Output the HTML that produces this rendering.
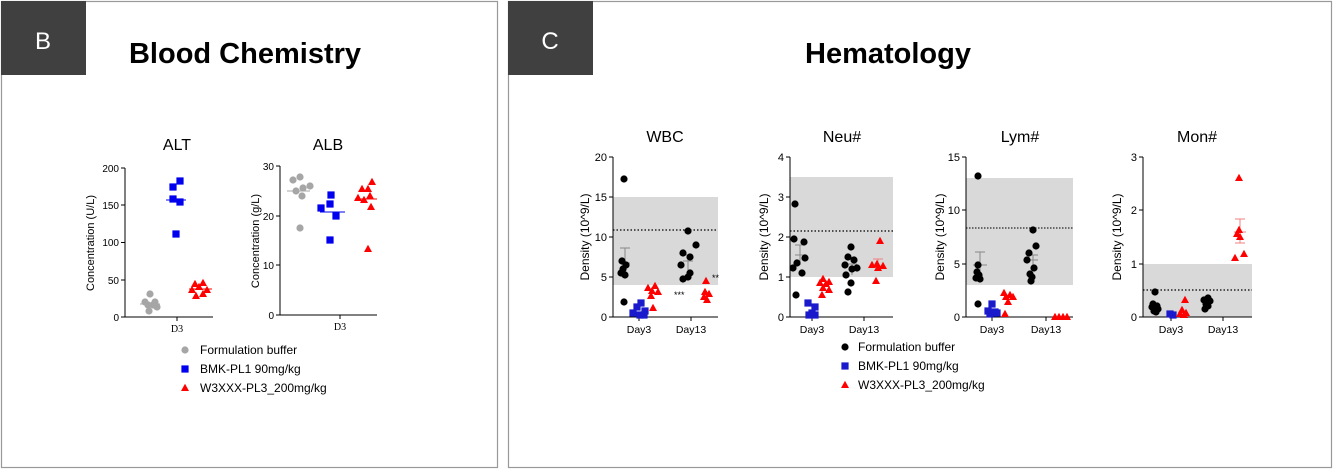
<!DOCTYPE html>
<html><head><meta charset="utf-8"><style>
html,body{margin:0;padding:0;background:#fff;}
svg{display:block;font-family:"Liberation Sans",Arial,sans-serif;}
</style></head><body>
<svg width="1334" height="476" viewBox="0 0 1334 476" xmlns="http://www.w3.org/2000/svg">
<defs>
<circle id="c" r="3.6"/>
<rect id="s" x="-3.6" y="-3.6" width="7.2" height="7.2"/>
<polygon id="t" points="0,-4.2 4,3 -4,3"/>
</defs>
<rect x="1.5" y="1.5" width="496" height="466" fill="#fff" stroke="#999" stroke-width="1.2"/>
<rect x="508.5" y="1.5" width="823" height="466" fill="#fff" stroke="#999" stroke-width="1.2"/>
<rect x="1" y="1" width="85" height="74" fill="#404040"/>
<rect x="508" y="1" width="85" height="74" fill="#404040"/>
<text x="43" y="49" fill="#fff" font-size="24" text-anchor="middle">B</text>
<text x="550" y="49" fill="#fff" font-size="24" text-anchor="middle">C</text>
<text x="245" y="63" font-size="29" font-weight="bold" text-anchor="middle">Blood Chemistry</text>
<text x="888" y="63" font-size="29" font-weight="bold" text-anchor="middle">Hematology</text>

<g font-size="11" fill="#000">
<text x="177" y="150" font-size="16" text-anchor="middle">ALT</text>
<line x1="125" y1="168" x2="125" y2="317" stroke="#000"/>
<line x1="125" y1="317" x2="213" y2="317" stroke="#000"/>
<line x1="177" y1="317" x2="177" y2="321" stroke="#000"/>
<g stroke="#000"><line x1="121" y1="168" x2="125" y2="168"/><line x1="121" y1="205" x2="125" y2="205"/><line x1="121" y1="242.5" x2="125" y2="242.5"/><line x1="121" y1="280" x2="125" y2="280"/><line x1="121" y1="317" x2="125" y2="317"/></g>
<g text-anchor="end" font-size="10"><text x="119" y="172">200</text><text x="119" y="209">150</text><text x="119" y="246">100</text><text x="119" y="284">50</text><text x="119" y="321">0</text></g>
<text x="177" y="332" font-family="Liberation Serif,serif" font-size="10" text-anchor="middle">D3</text>
<text transform="translate(94,243) rotate(-90)" font-size="11" text-anchor="middle">Concentration (U/L)</text>
<g fill="#a6a6a6"><use href="#c" x="150" y="294"/><use href="#c" x="145" y="302"/><use href="#c" x="155" y="302"/><use href="#c" x="153" y="305"/><use href="#c" x="148" y="305"/><use href="#c" x="157" y="307"/><use href="#c" x="149" y="311"/></g>
<line x1="140" y1="304" x2="160" y2="304" stroke="#a6a6a6"/>
<g fill="#0000ee"><use href="#s" x="173" y="187"/><use href="#s" x="180" y="181"/><use href="#s" x="173" y="199"/><use href="#s" x="180" y="202"/><use href="#s" x="176" y="234"/></g>
<line x1="166" y1="200" x2="186" y2="200" stroke="#0000ee"/>
<g fill="#ff0000"><use href="#t" x="195" y="284"/><use href="#t" x="203" y="283"/><use href="#t" x="199" y="287"/><use href="#t" x="192" y="290"/><use href="#t" x="207" y="290"/><use href="#t" x="196" y="296"/><use href="#t" x="203" y="294"/></g>
<line x1="189" y1="289" x2="212" y2="289" stroke="#ff0000"/>

<text x="328" y="150" font-size="16" text-anchor="middle">ALB</text>
<line x1="280" y1="166" x2="280" y2="315" stroke="#000"/>
<line x1="280" y1="315" x2="377" y2="315" stroke="#000"/>
<line x1="340" y1="315" x2="340" y2="319" stroke="#000"/>
<g stroke="#000"><line x1="276" y1="166" x2="280" y2="166"/><line x1="276" y1="216" x2="280" y2="216"/><line x1="276" y1="265" x2="280" y2="265"/><line x1="276" y1="315" x2="280" y2="315"/></g>
<g text-anchor="end" font-size="10"><text x="274" y="170">30</text><text x="274" y="220">20</text><text x="274" y="269">10</text><text x="274" y="319">0</text></g>
<text x="340" y="330" font-family="Liberation Serif,serif" font-size="10" text-anchor="middle">D3</text>
<text transform="translate(259,241) rotate(-90)" font-size="11" text-anchor="middle">Concentration (g/L)</text>
<g fill="#a6a6a6"><use href="#c" x="293" y="180"/><use href="#c" x="300" y="177"/><use href="#c" x="296" y="191"/><use href="#c" x="303" y="188"/><use href="#c" x="310" y="186"/><use href="#c" x="302" y="196"/><use href="#c" x="300" y="228"/></g>
<line x1="287" y1="191" x2="310" y2="191" stroke="#a6a6a6"/>
<g fill="#0000ee"><use href="#s" x="321" y="208"/><use href="#s" x="330" y="204"/><use href="#s" x="331" y="195"/><use href="#s" x="336" y="216"/><use href="#s" x="330" y="240"/></g>
<line x1="320" y1="212" x2="345" y2="212" stroke="#0000ee"/>
<g fill="#ff0000"><use href="#t" x="358" y="198"/><use href="#t" x="362" y="189"/><use href="#t" x="368" y="189"/><use href="#t" x="372" y="182"/><use href="#t" x="370" y="196"/><use href="#t" x="364" y="200"/><use href="#t" x="371" y="207"/><use href="#t" x="368" y="249"/></g>
<line x1="355" y1="199" x2="377" y2="199" stroke="#ff0000"/>

<use href="#c" x="185" y="350" fill="#a6a6a6"/><text x="200" y="354" font-size="12">Formulation buffer</text>
<use href="#s" x="185" y="369" fill="#0000ee"/><text x="200" y="373" font-size="12">BMK-PL1 90mg/kg</text>
<use href="#t" x="185" y="388" fill="#ff0000"/><text x="200" y="392" font-size="12">W3XXX-PL3_200mg/kg</text>
</g>

<g font-size="11" fill="#000">
<text x="665" y="142" font-size="16" text-anchor="middle">WBC</text>
<rect x="613" y="197" width="105" height="88" fill="#d9d9d9"/>
<line x1="613" y1="230" x2="718" y2="230" stroke="#222" stroke-dasharray="1.5,2" stroke-width="1.5"/>
<line x1="613" y1="157" x2="613" y2="317" stroke="#000"/>
<line x1="613" y1="317" x2="718" y2="317" stroke="#000"/>
<g stroke="#000"><line x1="609" y1="157" x2="613" y2="157"/><line x1="609" y1="197" x2="613" y2="197"/><line x1="609" y1="237" x2="613" y2="237"/><line x1="609" y1="277" x2="613" y2="277"/><line x1="609" y1="317" x2="613" y2="317"/><line x1="639" y1="317" x2="639" y2="321"/><line x1="691" y1="317" x2="691" y2="321"/></g>
<g text-anchor="end" font-size="11"><text x="607" y="161">20</text><text x="607" y="201">15</text><text x="607" y="241">10</text><text x="607" y="281">5</text><text x="607" y="321">0</text></g>
<g text-anchor="middle" font-size="10.5"><text x="639" y="333">Day3</text><text x="691" y="333">Day13</text></g>
<text transform="translate(589,237) rotate(-90)" font-size="12" text-anchor="middle">Density (10^9/L)</text>
<g stroke="#888"><line x1="625" y1="248" x2="625" y2="275"/><line x1="620" y1="248" x2="630" y2="248"/><line x1="620" y1="263" x2="630" y2="263"/></g>
<g fill="#000"><use href="#c" x="624" y="179"/><use href="#c" x="622" y="261"/><use href="#c" x="626" y="265"/><use href="#c" x="623" y="269"/><use href="#c" x="621" y="273"/><use href="#c" x="625" y="275"/><use href="#c" x="624" y="302"/></g>
<g fill="#1a1acc"><use href="#s" x="641" y="303"/><use href="#s" x="637" y="307"/><use href="#s" x="645" y="311"/><use href="#s" x="633" y="313"/><use href="#s" x="640" y="315"/><use href="#s" x="644" y="315"/></g>
<g fill="#ff0000"><use href="#t" x="655" y="286"/><use href="#t" x="648" y="288"/><use href="#t" x="652" y="291"/><use href="#t" x="658" y="292"/><use href="#t" x="651" y="296"/><use href="#t" x="653" y="308"/></g>
<g stroke="#888"><line x1="688" y1="255" x2="688" y2="270"/><line x1="683" y1="255" x2="693" y2="255"/><line x1="683" y1="261" x2="693" y2="261"/></g>
<g fill="#000"><use href="#c" x="688" y="231"/><use href="#c" x="696" y="245"/><use href="#c" x="683" y="253"/><use href="#c" x="690" y="257"/><use href="#c" x="681" y="265"/><use href="#c" x="690" y="273"/><use href="#c" x="688" y="277"/><use href="#c" x="683" y="279"/></g>
<g fill="#ff0000"><use href="#t" x="706" y="281"/><use href="#t" x="705" y="292"/><use href="#t" x="709" y="294"/><use href="#t" x="704" y="297"/><use href="#t" x="707" y="300"/></g>
<text x="674" y="298" font-size="9">***</text><text x="712" y="281" font-size="9">**</text>

<text x="842" y="142" font-size="16" text-anchor="middle">Neu#</text>
<rect x="790" y="177" width="103" height="100" fill="#d9d9d9"/>
<line x1="790" y1="231" x2="893" y2="231" stroke="#222" stroke-dasharray="1.5,2" stroke-width="1.5"/>
<line x1="790" y1="157" x2="790" y2="317" stroke="#000"/>
<line x1="790" y1="317" x2="893" y2="317" stroke="#000"/>
<g stroke="#000"><line x1="786" y1="157" x2="790" y2="157"/><line x1="786" y1="197" x2="790" y2="197"/><line x1="786" y1="237" x2="790" y2="237"/><line x1="786" y1="277" x2="790" y2="277"/><line x1="786" y1="317" x2="790" y2="317"/><line x1="812" y1="317" x2="812" y2="321"/><line x1="864" y1="317" x2="864" y2="321"/></g>
<g text-anchor="end" font-size="11"><text x="784" y="161">4</text><text x="784" y="201">3</text><text x="784" y="241">2</text><text x="784" y="281">1</text><text x="784" y="321">0</text></g>
<g text-anchor="middle" font-size="10.5"><text x="812" y="333">Day3</text><text x="864" y="333">Day13</text></g>
<text transform="translate(768,237) rotate(-90)" font-size="12" text-anchor="middle">Density (10^9/L)</text>
<g stroke="#888"><line x1="800" y1="245" x2="800" y2="265"/><line x1="795" y1="245" x2="805" y2="245"/><line x1="795" y1="255" x2="805" y2="255"/></g>
<g fill="#000"><use href="#c" x="795" y="204"/><use href="#c" x="794" y="239"/><use href="#c" x="804" y="242"/><use href="#c" x="805" y="258"/><use href="#c" x="797" y="263"/><use href="#c" x="793" y="268"/><use href="#c" x="802" y="273"/><use href="#c" x="796" y="295"/></g>
<g fill="#1a1acc"><use href="#s" x="808" y="303"/><use href="#s" x="815" y="307"/><use href="#s" x="812" y="313"/><use href="#s" x="809" y="315"/><use href="#s" x="815" y="315"/></g>
<g fill="#ff0000"><use href="#t" x="823" y="279"/><use href="#t" x="829" y="282"/><use href="#t" x="820" y="283"/><use href="#t" x="826" y="284"/><use href="#t" x="823" y="288"/><use href="#t" x="829" y="290"/><use href="#t" x="822" y="295"/></g>
<g stroke="#888"><line x1="852" y1="264" x2="852" y2="275"/><line x1="847" y1="264" x2="857" y2="264"/></g>
<g fill="#000"><use href="#c" x="851" y="247"/><use href="#c" x="848" y="257"/><use href="#c" x="854" y="260"/><use href="#c" x="845" y="265"/><use href="#c" x="852" y="269"/><use href="#c" x="857" y="268"/><use href="#c" x="846" y="275"/><use href="#c" x="851" y="283"/><use href="#c" x="848" y="292"/></g>
<g stroke="#f08080"><line x1="878" y1="259" x2="878" y2="270"/><line x1="873" y1="259" x2="883" y2="259"/></g>
<g fill="#ff0000"><use href="#t" x="880" y="241"/><use href="#t" x="877" y="264"/><use href="#t" x="872" y="265"/><use href="#t" x="883" y="266"/><use href="#t" x="878" y="268"/><use href="#t" x="876" y="281"/></g>

<text x="1020" y="142" font-size="16" text-anchor="middle">Lym#</text>
<rect x="966" y="178" width="107" height="107" fill="#d9d9d9"/>
<line x1="966" y1="228" x2="1073" y2="228" stroke="#444" stroke-dasharray="1.5,1.5" stroke-width="1.5"/>
<line x1="966" y1="157" x2="966" y2="317" stroke="#000"/>
<line x1="966" y1="317" x2="1073" y2="317" stroke="#000"/>
<g stroke="#000"><line x1="962" y1="157" x2="966" y2="157"/><line x1="962" y1="210" x2="966" y2="210"/><line x1="962" y1="264" x2="966" y2="264"/><line x1="962" y1="317" x2="966" y2="317"/><line x1="992" y1="317" x2="992" y2="321"/><line x1="1046" y1="317" x2="1046" y2="321"/></g>
<g text-anchor="end" font-size="11"><text x="960" y="161">15</text><text x="960" y="214">10</text><text x="960" y="268">5</text><text x="960" y="321">0</text></g>
<g text-anchor="middle" font-size="10.5"><text x="992" y="333">Day3</text><text x="1046" y="333">Day13</text></g>
<text transform="translate(944,237) rotate(-90)" font-size="12" text-anchor="middle">Density (10^9/L)</text>
<g stroke="#888"><line x1="980" y1="252" x2="980" y2="275"/><line x1="975" y1="252" x2="985" y2="252"/><line x1="973" y1="265" x2="987" y2="265"/></g>
<g fill="#000"><use href="#c" x="978" y="176"/><use href="#c" x="978" y="265"/><use href="#c" x="977" y="272"/><use href="#c" x="979" y="275"/><use href="#c" x="976" y="278"/><use href="#c" x="980" y="279"/><use href="#c" x="978" y="304"/></g>
<g fill="#1a1acc"><use href="#s" x="992" y="304"/><use href="#s" x="988" y="311"/><use href="#s" x="995" y="312"/><use href="#s" x="990" y="314"/><use href="#s" x="997" y="313"/></g>
<g fill="#ff0000"><use href="#t" x="1004" y="293"/><use href="#t" x="1010" y="295"/><use href="#t" x="1006" y="297"/><use href="#t" x="1013" y="297"/><use href="#t" x="1008" y="302"/><use href="#t" x="1005" y="314"/></g>
<g stroke="#888"><line x1="1033" y1="255" x2="1033" y2="270"/><line x1="1028" y1="255" x2="1038" y2="255"/><line x1="1028" y1="260" x2="1038" y2="260"/></g>
<g fill="#000"><use href="#c" x="1033" y="230"/><use href="#c" x="1029" y="253"/><use href="#c" x="1036" y="246"/><use href="#c" x="1027" y="260"/><use href="#c" x="1034" y="268"/><use href="#c" x="1030" y="274"/><use href="#c" x="1032" y="277"/><use href="#c" x="1031" y="281"/></g>
<g fill="#ff0000"><use href="#t" x="1055" y="317"/><use href="#t" x="1059" y="317"/><use href="#t" x="1063" y="317"/><use href="#t" x="1067" y="317"/></g>

<text x="1197" y="142" font-size="16" text-anchor="middle">Mon#</text>
<rect x="1143" y="264" width="109" height="53" fill="#d9d9d9"/>
<line x1="1143" y1="290" x2="1252" y2="290" stroke="#222" stroke-dasharray="1.5,2" stroke-width="1.5"/>
<line x1="1143" y1="157" x2="1143" y2="317" stroke="#000"/>
<line x1="1143" y1="317" x2="1252" y2="317" stroke="#000"/>
<g stroke="#000"><line x1="1139" y1="157" x2="1143" y2="157"/><line x1="1139" y1="210" x2="1143" y2="210"/><line x1="1139" y1="264" x2="1143" y2="264"/><line x1="1139" y1="317" x2="1143" y2="317"/><line x1="1171" y1="317" x2="1171" y2="321"/><line x1="1223" y1="317" x2="1223" y2="321"/></g>
<g text-anchor="end" font-size="11"><text x="1137" y="161">3</text><text x="1137" y="214">2</text><text x="1137" y="268">1</text><text x="1137" y="321">0</text></g>
<g text-anchor="middle" font-size="10.5"><text x="1171" y="333">Day3</text><text x="1223" y="333">Day13</text></g>
<text transform="translate(1121,237) rotate(-90)" font-size="12" text-anchor="middle">Density (10^9/L)</text>
<g fill="#000"><use href="#c" x="1155" y="292"/><use href="#c" x="1153" y="304"/><use href="#c" x="1157" y="306"/><use href="#c" x="1152" y="307"/><use href="#c" x="1158" y="309"/><use href="#c" x="1154" y="311"/><use href="#c" x="1156" y="312"/></g>
<g fill="#1a1acc"><use href="#s" x="1170" y="314"/><use href="#s" x="1173" y="315"/></g>
<g fill="#ff0000"><use href="#t" x="1185" y="300"/><use href="#t" x="1182" y="310"/><use href="#t" x="1186" y="313"/><use href="#t" x="1180" y="314"/><use href="#t" x="1184" y="315"/></g>
<g fill="#000"><use href="#c" x="1208" y="298"/><use href="#c" x="1204" y="300"/><use href="#c" x="1210" y="301"/><use href="#c" x="1206" y="304"/><use href="#c" x="1208" y="306"/><use href="#c" x="1205" y="309"/></g>
<g stroke="#f08080"><line x1="1240" y1="219" x2="1240" y2="243"/><line x1="1235" y1="219" x2="1245" y2="219"/><line x1="1235" y1="243" x2="1245" y2="243"/><line x1="1234" y1="232" x2="1246" y2="232"/></g>
<g fill="#ff0000"><use href="#t" x="1239" y="178"/><use href="#t" x="1239" y="230"/><use href="#t" x="1237" y="234"/><use href="#t" x="1240" y="237"/><use href="#t" x="1244" y="254"/><use href="#t" x="1235" y="258"/></g>

<use href="#c" x="845" y="347" fill="#000"/><text x="858" y="351" font-size="12">Formulation buffer</text>
<use href="#s" x="845" y="366" fill="#1a1acc"/><text x="858" y="370" font-size="12">BMK-PL1 90mg/kg</text>
<use href="#t" x="845" y="385" fill="#ff0000"/><text x="858" y="389" font-size="12">W3XXX-PL3_200mg/kg</text>
</g>
</svg>
</body></html>
